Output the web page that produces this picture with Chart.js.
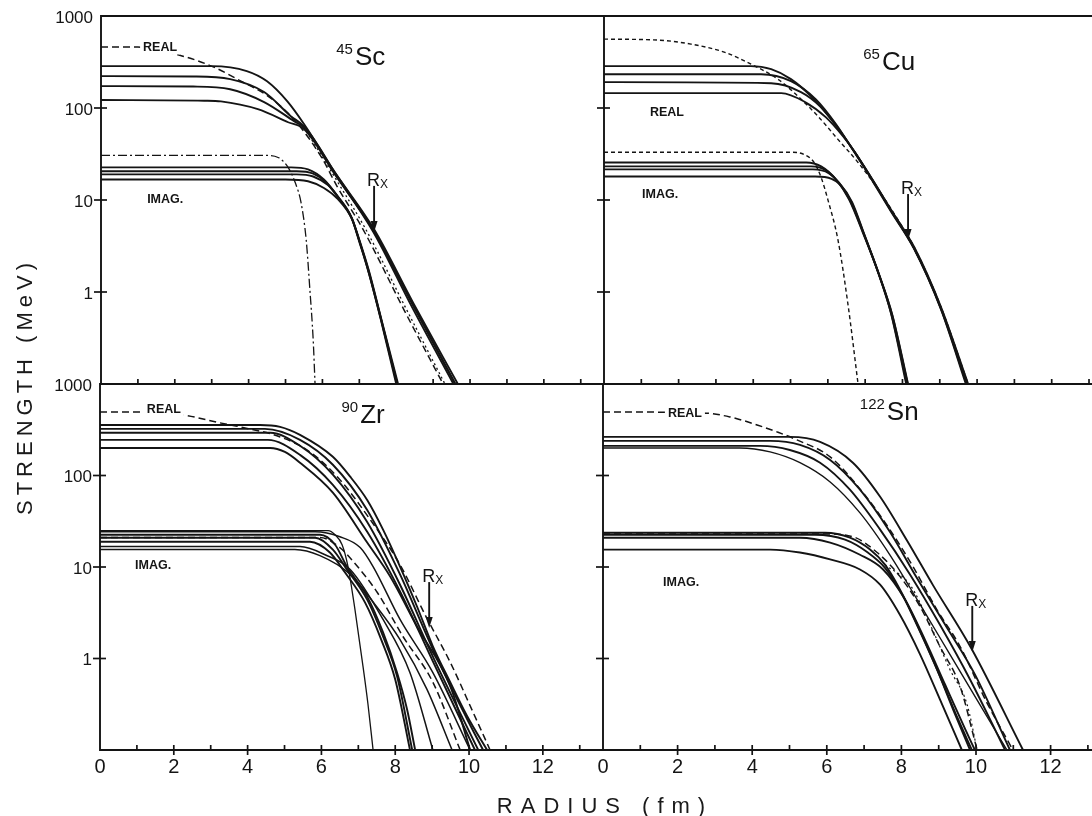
<!DOCTYPE html>
<html>
<head>
<meta charset="utf-8">
<script src="https://cdn.jsdelivr.net/npm/chart.js@4.4.0/dist/chart.umd.min.js"></script>
<style>
  html, body { margin: 0; padding: 0; background: #fff; }
  body { width: 1092px; height: 816px; position: relative; overflow: hidden; font-family: "Liberation Sans", Arial, sans-serif; }
  canvas { position: absolute; }
  .title { position: absolute; color: #1a1a1a; font-size: 22px; white-space: nowrap; }
  #ytitle { left: 25px; top: 389px; letter-spacing: 5px; padding-left: 5px; transform: translate(-50%, -50%) rotate(-90deg); }
  #xtitle { left: 601px; top: 806px; letter-spacing: 8px; padding-left: 8px; transform: translate(-50%, -50%); }
</style>
</head>
<body>
<canvas id="scChart" width="604" height="392" style="left:0;top:0"></canvas>
<canvas id="cuChart" width="532" height="392" style="left:560px;top:0"></canvas>
<canvas id="zrChart" width="604" height="440" style="left:0;top:376px"></canvas>
<canvas id="snChart" width="532" height="440" style="left:560px;top:376px"></canvas>
<div class="title" id="ytitle">STRENGTH (MeV)</div>
<div class="title" id="xtitle">RADIUS (fm)</div>
<script>
// ---- data: [radius fm, strength MeV] ----
// 45Sc
const scReal1 = [[0,285],[3.0,285],[3.95,252],[4.5,195],[5.05,118],[5.5,67],[6.3,21],[7.4,4.8],[8.46,0.76],[9.67,0.1]];
const scReal2 = [[0,222],[2.5,220],[3.5,206],[4.42,149],[5.15,81],[5.5,63],[6.3,20],[7.38,4.7],[8.45,0.74],[9.6,0.1]];
const scReal3 = [[0,173],[2.5,171],[3.5,160],[4.42,116],[5.23,72],[5.56,59],[6.37,19],[7.4,4.6],[8.45,0.72],[9.6,0.1]];
const scReal4 = [[0,122],[2.8,120],[3.25,118],[4.25,97],[5.07,70],[5.5,59],[6.37,18.5],[7.38,4.5],[8.4,0.72],[9.55,0.1]];
const scRealDash = [[0,459],[1.0,459],[2.22,366],[3.06,278],[3.79,196],[4.53,134],[5.23,75],[5.96,29.8],[6.4,14],[7.1,4.8],[8.21,0.64],[9.27,0.1]];
const scRealDot = [[5.5,62],[6.4,16],[7.2,4.6],[8.25,0.68],[9.32,0.1]];
const scImag1 = [[0,22.6],[5.15,22.6],[5.61,21.5],[6.04,16.7],[6.42,10.9],[6.78,6.6],[7.0,3.7],[7.26,1.7],[7.6,0.5],[8.05,0.1]];
const scImag2 = [[0,20.5],[5.3,20.5],[5.75,19.3],[6.1,15.5],[6.42,10.7],[6.78,6.5],[7.0,3.6],[7.26,1.65],[7.6,0.49],[8.03,0.1]];
const scImag3 = [[0,19],[5.3,19],[5.75,18],[6.15,14.5],[6.45,10.5],[6.8,6.3],[7.0,3.6],[7.26,1.6],[7.6,0.48],[8.02,0.1]];
const scImag4 = [[0,16.7],[5.0,16.7],[5.61,16],[6.04,13.5],[6.42,10.2],[6.8,6.2],[7.0,3.5],[7.26,1.6],[7.6,0.47],[8.0,0.1]];
const scImagDashDot = [[0,30.5],[4.47,30.5],[4.8,29],[5.07,22.6],[5.28,14.8],[5.42,9.4],[5.56,3.7],[5.66,1.06],[5.75,0.3],[5.8,0.1]];

// 65Cu
const cuReal1 = [[0,285],[3.94,285],[4.48,264],[5.01,206],[5.55,134],[6.09,75],[6.62,38],[7.16,17.6],[7.69,7.9],[8.31,3.1],[9.03,0.69],[9.76,0.1]];
const cuReal2 = [[0,233],[4.21,233],[5.01,196],[5.68,124],[6.22,66.5],[6.65,36],[7.18,16.8],[7.7,7.6],[8.31,3.0],[9.03,0.67],[9.74,0.1]];
const cuReal3 = [[0,191],[4.48,186],[5.28,149],[5.82,102],[6.3,58.7],[6.7,34],[7.2,16.5],[7.7,7.6],[8.31,3.0],[9.03,0.66],[9.72,0.1]];
const cuReal4 = [[0,145],[4.75,145],[5.39,116],[5.95,79],[6.41,49],[6.75,32],[7.2,16],[7.7,7.4],[8.31,2.95],[9.03,0.65],[9.7,0.1]];
const cuRealDash = [[0,561],[1.45,547],[2.33,495],[3.22,405],[3.94,300],[4.66,206],[5.2,134],[5.74,81],[6.27,45.6],[6.81,25.6],[7.35,13],[7.96,5.4],[8.31,3.1],[9.03,0.69],[9.76,0.1]];
const cuImag1 = [[0,25.6],[5.42,25.6],[5.82,23.2],[6.22,16.7],[6.57,10.1],[6.94,4.4],[7.35,1.62],[7.69,0.59],[8.1,0.1]];
const cuImag2 = [[0,23.2],[5.55,23.2],[5.95,21],[6.25,16],[6.6,9.8],[6.96,4.3],[7.36,1.58],[7.7,0.58],[8.12,0.1]];
const cuImag3 = [[0,21.5],[5.6,21.5],[6.03,19.5],[6.3,15.5],[6.62,9.7],[6.97,4.25],[7.37,1.55],[7.72,0.57],[8.14,0.1]];
const cuImag4 = [[0,18],[5.66,18],[6.1,17],[6.35,14.5],[6.65,9.5],[6.98,4.2],[7.38,1.53],[7.73,0.56],[8.15,0.1]];
const cuImagDot = [[0,33],[5.01,33],[5.36,31.3],[5.63,25.6],[5.82,17.6],[6.0,10.1],[6.27,3.7],[6.54,0.73],[6.81,0.1]];

// 90Zr
const zrReal1 = [[0,357],[4.34,357],[4.88,340],[5.42,278],[6.31,160],[6.78,97],[7.24,54],[7.67,25.6],[8.13,10.1],[8.59,3.7],[9.02,1.36],[9.49,0.55],[9.95,0.234],[10.49,0.1]];
const zrReal2 = [[0,323],[4.47,323],[5.42,245],[6.31,131],[7.24,42],[8.13,8.3],[9.02,1.26],[9.95,0.217],[10.38,0.1]];
const zrReal3 = [[0,293],[4.61,293],[5.42,211],[6.31,102],[7.24,31],[8.13,6.4],[9.02,1.05],[10.25,0.1]];
const zrReal4 = [[0,245],[4.55,245],[5.42,168],[6.31,79],[7.24,24.3],[8.13,5.4],[9.02,0.93],[10.16,0.1]];
const zrReal5 = [[0,200],[4.61,200],[5.01,181],[5.42,138],[6.31,65],[7.24,18.5],[7.86,7.9],[8.59,2.24],[9.49,0.5],[10.03,0.1]];
const zrRealDash = [[0,495],[1.22,495],[2.25,459],[3.25,376],[3.79,340],[4.88,264],[5.69,181],[6.5,90],[7.32,33],[8.13,10.6],[8.81,3.0],[9.49,0.91],[10.11,0.258],[10.57,0.1]];
const zrImag1 = [[0,25],[6.18,25],[6.37,22.5],[6.56,17.5],[6.72,10.1],[6.91,3.4],[7.1,0.98],[7.26,0.32],[7.4,0.1]];
const zrImag2 = [[0,22.5],[5.96,22.5],[6.37,17.5],[6.69,10.1],[7.24,4.75],[7.67,1.93],[8.05,0.7],[8.32,0.279],[8.54,0.1]];
const zrImag3 = [[0,20.9],[5.83,20.9],[6.31,15.5],[6.69,9.4],[7.24,4.4],[7.67,1.74],[8.05,0.64],[8.46,0.1]];
const zrImag4 = [[0,18.9],[5.69,18.9],[6.23,14.4],[6.64,8.7],[7.18,4.1],[7.62,1.61],[8.0,0.59],[8.4,0.1]];
const zrImag5 = [[0,16.7],[5.42,16.7],[6.1,13.6],[6.78,9.4],[7.67,2.67],[8.4,0.7],[9.02,0.1]];
const zrImag6 = [[0,15.5],[5.28,15.5],[5.96,13.3],[6.78,8.3],[7.45,3.9],[8.13,1.61],[8.86,0.46],[9.54,0.1]];
const zrImag7 = [[0,24.3],[5.83,24.3],[6.5,21.4],[7.05,16.3],[7.4,10.1],[8.13,2.67],[9.02,0.7],[10.03,0.1]];
const zrImagDash = [[0,21],[5.96,21],[6.5,16.3],[6.86,11.5],[7.51,5.3],[8.21,1.74],[9.02,0.55],[9.76,0.1]];

// 122Sn
const snReal1 = [[0,264],[5.01,264],[5.82,233],[6.7,138],[7.43,58.6],[8.15,19.5],[8.85,6.3],[9.87,1.3],[11.26,0.1]];
const snReal2 = [[0,239],[4.48,239],[5.28,216],[6.09,148],[6.89,70],[7.69,24.3],[8.36,8.3],[9.17,2.35],[9.97,0.67],[10.91,0.1]];
const snReal3 = [[0,211],[4.21,211],[5.01,190],[5.82,138],[6.62,70],[7.43,25.6],[8.23,8.3],[9.03,2.35],[9.84,0.59],[10.78,0.1]];
const snReal4 = [[0,200],[3.67,200],[4.48,181],[5.28,138],[6.09,85],[6.89,39],[7.69,13.6],[8.5,3.9],[9.3,1.11],[10.1,0.316],[10.83,0.1]];
const snRealDash = [[0,495],[2.68,483],[3.4,437],[4.13,357],[4.66,300],[5.2,245],[6.09,160],[6.97,65],[7.69,25.6],[8.31,10.1],[8.95,3.43],[9.57,1.36],[10.29,0.33],[10.99,0.1]];
const snImag1 = [[0,23.7],[5.95,23.7],[6.62,20.9],[7.16,15.5],[7.56,10.6],[7.96,5.7],[8.36,2.67],[8.9,0.86],[9.44,0.245],[9.84,0.1]];
const snImag2 = [[0,22.5],[5.68,22.5],[6.49,19.9],[7.1,14.4],[7.56,9.8],[8.02,5.0],[8.45,2.18],[8.98,0.72],[9.52,0.217],[9.89,0.1]];
const snImag3 = [[0,20.9],[5.28,20.9],[6.09,18.5],[6.89,13.6],[7.51,9.4],[8.1,4.4],[8.63,1.61],[9.17,0.52],[9.71,0.169],[9.97,0.1]];
const snImag4 = [[0,15.5],[4.48,15.5],[5.28,14.4],[6.09,12.1],[6.89,9.4],[7.43,6.4],[7.96,3.0],[8.5,1.11],[9.03,0.36],[9.62,0.1]];
const snImagDash = [[0,23],[5.9,23],[6.7,21.4],[7.35,14.4],[7.96,7.9],[8.5,3.7],[9.03,1.36],[9.57,0.5],[10.03,0.1]];
const snImagDot = [[7.56,10.6],[8.23,6.4],[8.77,2.35],[9.3,0.76],[9.76,0.316],[10.03,0.1]];

// axis ticks
const yDecades = [1, 10, 100];
const yTickLabels = [1000, 100, 10, 1];
const xTickLabels = [0, 2, 4, 6, 8, 10, 12];

const ink = '#141414';
const dashes = { solid: [], dash: [7, 4], short: [4, 3], dot: [2, 3], dashdot: [9, 3, 2, 3] };

function curve(points, style, width) {
    return {
        data: points.map(p => ({ x: p[0], y: p[1] })),
        borderColor: ink,
        borderWidth: width || 1.9,
        borderDash: dashes[style || 'solid'],
        pointRadius: 0,
        fill: false,
        cubicInterpolationMode: 'monotone'
    };
}

// per panel decoration: label positions are in data units (radius, MeV)
const decor = {
    scChart: { left: true, bottom: false, iso: ['45', 'Sc', 6.88, 293], real: [1.14, 455], imag: [1.25, 10], rx: [7.4, 4.5] },
    cuChart: { left: false, bottom: false, iso: ['65', 'Cu', 7.45, 259], real: [1.23, 90], imag: [1.02, 11.6], rx: [8.15, 3.67] },
    zrChart: { left: true, bottom: true, iso: ['90', 'Zr', 7.05, 375], real: [1.27, 520], imag: [0.95, 10.5], rx: [8.92, 2.15] },
    snChart: { left: false, bottom: true, iso: ['122', 'Sn', 7.61, 404], real: [1.74, 470], imag: [1.61, 6.7], rx: [9.9, 1.18] }
};

function smallLabel(ctx, text, x, y) {
    ctx.font = 'bold 12.5px "Liberation Sans", Arial, sans-serif';
    const w = ctx.measureText(text).width;
    ctx.fillStyle = '#fff';
    ctx.fillRect(x - 3, y - 7, w + 6, 14);
    ctx.fillStyle = ink;
    ctx.textAlign = 'left';
    ctx.textBaseline = 'middle';
    ctx.fillText(text, x, y);
}

const panelDecor = {
    id: 'panelDecor',
    afterDatasetsDraw(chart) {
        const o = decor[chart.canvas.id];
        const ctx = chart.ctx, a = chart.chartArea;
        const xs = chart.scales.x, ys = chart.scales.y;
        ctx.save();
        ctx.strokeStyle = ink;
        ctx.fillStyle = ink;
        ctx.lineWidth = 1.9;
        ctx.setLineDash([]);

        // frame
        ctx.beginPath();
        ctx.moveTo(a.right, a.top); ctx.lineTo(a.left, a.top);
        ctx.lineTo(a.left, a.bottom); ctx.lineTo(a.right, a.bottom);
        ctx.stroke();

        // decade ticks across the left axis
        ctx.lineWidth = 1.7;
        yDecades.forEach(v => {
            const y = ys.getPixelForValue(v);
            ctx.beginPath();
            ctx.moveTo(a.left - 7, y); ctx.lineTo(a.left + 6, y);
            ctx.stroke();
        });

        // radius ticks (every fm), inside; even ones also outside on the lower row
        for (let r = 1; r <= Math.floor(xs.max); r++) {
            const x = xs.getPixelForValue(r);
            ctx.beginPath();
            ctx.moveTo(x, a.bottom - 5);
            ctx.lineTo(x, (o.bottom && r % 2 === 0) ? a.bottom + 5 : a.bottom);
            ctx.stroke();
        }

        ctx.font = '17px "Liberation Sans", Arial, sans-serif';
        ctx.textAlign = 'right';
        ctx.textBaseline = 'middle';
        if (o.left) {
            yTickLabels.forEach(v => ctx.fillText(String(v), a.left - 8, ys.getPixelForValue(v) + 2));
        }
        if (o.bottom) {
            ctx.font = '20px "Liberation Sans", Arial, sans-serif';
            ctx.textAlign = 'center';
            xTickLabels.forEach(v => ctx.fillText(String(v), xs.getPixelForValue(v), a.bottom + 17));
        }

        // isotope label
        const ix = xs.getPixelForValue(o.iso[2]), iy = ys.getPixelForValue(o.iso[3]);
        ctx.textBaseline = 'alphabetic';
        ctx.textAlign = 'left';
        ctx.font = '26px "Liberation Sans", Arial, sans-serif';
        ctx.fillText(o.iso[1], ix, iy);
        ctx.font = '15px "Liberation Sans", Arial, sans-serif';
        ctx.textAlign = 'right';
        ctx.fillText(o.iso[0], ix - 2, iy - 11);

        // REAL / IMAG. tags
        smallLabel(ctx, 'REAL', xs.getPixelForValue(o.real[0]), ys.getPixelForValue(o.real[1]));
        smallLabel(ctx, 'IMAG.', xs.getPixelForValue(o.imag[0]), ys.getPixelForValue(o.imag[1]));

        // Rx arrow
        const tx = xs.getPixelForValue(o.rx[0]), ty = ys.getPixelForValue(o.rx[1]);
        ctx.lineWidth = 1.9;
        ctx.beginPath();
        ctx.moveTo(tx, ty - 46); ctx.lineTo(tx, ty - 8);
        ctx.stroke();
        ctx.beginPath();
        ctx.moveTo(tx, ty); ctx.lineTo(tx - 3.5, ty - 11); ctx.lineTo(tx + 3.5, ty - 11);
        ctx.closePath();
        ctx.fill();
        ctx.textAlign = 'left';
        ctx.font = '18px "Liberation Sans", Arial, sans-serif';
        ctx.fillText('R', tx - 7, ty - 51);
        ctx.font = '12px "Liberation Sans", Arial, sans-serif';
        ctx.fillText('X', tx + 6, ty - 47);
        ctx.restore();
    }
};

function makePanel(id, pad, xMax, datasets) {
    return new Chart(document.getElementById(id), {
        type: 'line',
        data: { datasets: datasets },
        options: {
            responsive: false,
            animation: false,
            events: [],
            devicePixelRatio: 1,
            layout: { padding: pad },
            scales: {
                x: { type: 'linear', min: 0, max: xMax, display: false },
                y: { type: 'logarithmic', min: 0.1, max: 1000, display: false }
            },
            plugins: { legend: { display: false }, tooltip: { enabled: false } }
        },
        plugins: [panelDecor]
    });
}

makePanel('scChart', { left: 101, top: 16, right: 0, bottom: 8 }, 13.63, [
    curve(scReal1), curve(scReal2), curve(scReal3), curve(scReal4),
    curve(scRealDash, 'dash', 1.5), curve(scRealDot, 'dot', 1.3),
    curve(scImag1), curve(scImag2), curve(scImag3), curve(scImag4),
    curve(scImagDashDot, 'dashdot', 1.3)
]);

makePanel('cuChart', { left: 44, top: 16, right: 0, bottom: 8 }, 13.08, [
    curve(cuReal1), curve(cuReal2), curve(cuReal3), curve(cuReal4),
    curve(cuRealDash, 'short', 1.4),
    curve(cuImag1), curve(cuImag2), curve(cuImag3), curve(cuImag4),
    curve(cuImagDot, 'short', 1.4)
]);

makePanel('zrChart', { left: 100, top: 8, right: 1, bottom: 66 }, 13.63, [
    curve(zrReal1), curve(zrReal2), curve(zrReal3), curve(zrReal4), curve(zrReal5),
    curve(zrRealDash, 'dash', 1.5),
    curve(zrImag1, 'solid', 1.3), curve(zrImag2), curve(zrImag3), curve(zrImag4),
    curve(zrImag5, 'solid', 1.5), curve(zrImag6, 'solid', 1.5), curve(zrImag7, 'solid', 1.5),
    curve(zrImagDash, 'dash', 1.5)
]);

makePanel('snChart', { left: 43, top: 8, right: 0, bottom: 66 }, 13.11, [
    curve(snReal1), curve(snReal2), curve(snReal3), curve(snReal4, 'solid', 1.4),
    curve(snRealDash, 'dash', 1.5),
    curve(snImag1), curve(snImag2), curve(snImag3), curve(snImag4),
    curve(snImagDash, 'dash', 1.5), curve(snImagDot, 'dot', 1.2)
]);
</script>
</body>
</html>
